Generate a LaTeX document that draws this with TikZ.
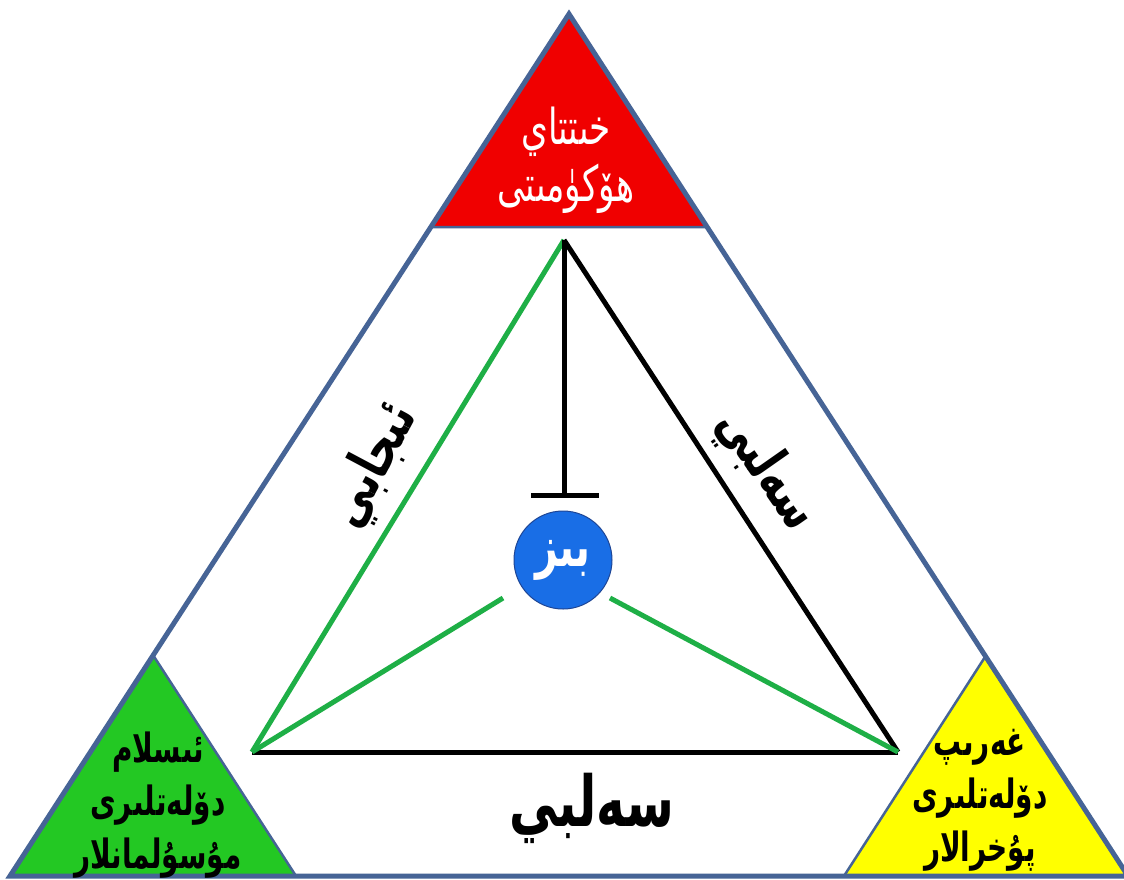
\documentclass[tikz,border=0pt]{standalone}
\usepackage{fontspec}
\TeXXeTstate=1
\newfontfamily\arabicfont[Script=Arabic]{DejaVu Sans}
\newcommand\arl[1]{\scalebox{0.9}[1.3]{\beginR #1\endR}}
\definecolor{outerblue}{RGB}{70,100,150}
\definecolor{topred}{RGB}{240,0,0}
\definecolor{leftgreen}{RGB}{35,200,35}
\definecolor{rightyellow}{RGB}{255,255,0}
\definecolor{linegreen}{RGB}{30,175,70}
\definecolor{bizblue}{RGB}{25,110,230}
\definecolor{bizborder}{RGB}{30,70,150}
\tikzset{
  border/.style={draw=outerblue, line width=5pt, line join=miter},
  cornerbox/.style={draw=outerblue, line width=2.5pt, line join=miter},
  label3/.style={font=\arabicfont\bfseries\fontsize{31}{53}\selectfont, align=center, inner sep=0pt},
  redlabel/.style={font=\arabicfont\fontsize{38}{57}\selectfont, text=white, align=center, inner sep=0pt},
  sidelabel/.style={font=\arabicfont\bfseries\fontsize{44}{50}\selectfont, inner sep=0pt},
  greenline/.style={draw=linegreen, line width=5pt},
  blackline/.style={draw=black, line width=5pt},
}
\begin{document}
\begin{tikzpicture}[x=1pt,y=-1pt]
\useasboundingbox (0,0) rectangle (1124,879);
\fill[white] (0,0) rectangle (1124,879);
% outer triangle
\coordinate (O1) at (569,14);
\coordinate (O2) at (10,876);
\coordinate (O3) at (1128,876);
\fill[white] (O1) -- (O2) -- (O3) -- cycle;
% corner triangles
\filldraw[cornerbox, fill=topred] (569,14) -- (431,227) -- (707,227) -- cycle;
\filldraw[cornerbox, fill=leftgreen] (153,655) -- (10,876) -- (296,876) -- cycle;
\filldraw[cornerbox, fill=rightyellow] (985,657) -- (844,876) -- (1128,876) -- cycle;
\draw[border] (O1) -- (O2) -- (O3) -- cycle;
% inner triangle
\coordinate (A) at (564,240);
\coordinate (B) at (252,752);
\coordinate (C) at (898,752);
\node[circle, fill=bizblue, draw=bizborder, line width=1pt, minimum size=98pt, inner sep=0pt,
  font=\arabicfont\bfseries\fontsize{44}{46}\selectfont, text=white] (biz) at (563,560) {\arl{بىز}};
\coordinate (T) at (564,495);
\coordinate (TL) at (531,495);
\coordinate (TR) at (599,495);
\coordinate (GL) at (503,598);
\coordinate (GR) at (610,598);
\draw[greenline] (A) -- (B);
\draw[blackline] (A) -- (C);
\draw[blackline] (B) -- (C);
\draw[blackline] (A) -- (T);
\draw[blackline] (TL) -- (TR);
\draw[greenline] (B) -- (GL);
\draw[greenline] (C) -- (GR);
% labels
\node[redlabel] (gov) at (566,160) {\arl{خىتتاي}\\\arl{ھۆكۈمىتى}};
\node[label3] (isl) at (158,805) {\arl{ئىسلام}\\\arl{دۆلەتلىرى}\\\arl{مۇسۇلمانلار}};
\node[label3] (west) at (980,800) {\arl{غەرىپ}\\\arl{دۆلەتلىرى}\\\arl{پۇخرالار}};
\node[sidelabel, rotate=62] (pos) at (374,466) {\arl{ئىجابي}};
\node[sidelabel, rotate=-55] (neg1) at (766,470) {\arl{سەلبي}};
\node[sidelabel, font=\arabicfont\bfseries\fontsize{54}{58}\selectfont] (neg2) at (592,808) {\arl{سەلبي}};
\end{tikzpicture}
\end{document}
